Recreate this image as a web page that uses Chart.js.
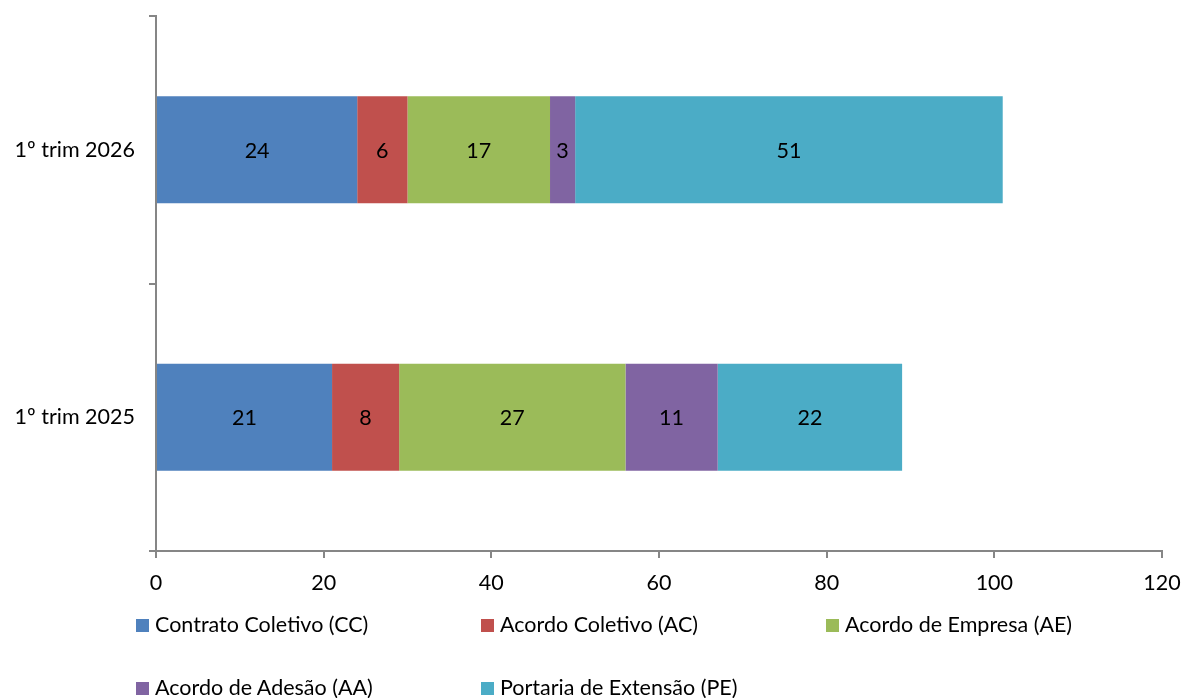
<!DOCTYPE html>
<html>
<head>
<meta charset="utf-8">
<script src="https://cdn.jsdelivr.net/npm/chart.js@4"></script>
<style>
  html, body { margin: 0; padding: 0; background: #fff; }
  #wrap { position: relative; width: 1184px; height: 698px; }
  #chart { position: absolute; left: 0; top: 0; }
  .leg { position: absolute; font-family: Lato, sans-serif; font-size: 21.5px; color: #000; white-space: nowrap; line-height: 22px; }
  .leg span { display: inline-block; width: 13px; height: 13px; margin-right: 6px; vertical-align: 0px; }
</style>
</head>
<body>
<div id="wrap">
  <canvas id="chart" width="1184" height="698"></canvas>
  <div id="legend"></div>
</div>
<script>
const categories = ['1º trim 2026', '1º trim 2025'];
const seriesNames = ['Contrato Coletivo (CC)', 'Acordo Coletivo  (AC)', 'Acordo de Empresa (AE)', 'Acordo de Adesão (AA)', 'Portaria de Extensão (PE)'];
const seriesColors = ['#4F81BD', '#C0504D', '#9BBB59', '#8064A2', '#4BACC6'];
const ccValues = [24, 21];
const acValues = [6, 8];
const aeValues = [17, 27];
const aaValues = [3, 11];
const peValues = [51, 22];
const xTicks = [0, 20, 40, 60, 80, 100, 120];

const allValues = [ccValues, acValues, aeValues, aaValues, peValues];
const axisColor = '#868686';
const font = { family: 'Lato, sans-serif', size: 21.5 };

// values written in the middle of each segment
const segmentLabels = {
  id: 'segmentLabels',
  afterDatasetsDraw(chart) {
    const ctx = chart.ctx;
    ctx.save();
    ctx.font = `${font.size}px ${font.family}`;
    ctx.fillStyle = '#000';
    ctx.textAlign = 'center';
    ctx.textBaseline = 'middle';
    chart.data.datasets.forEach((ds, i) => {
      chart.getDatasetMeta(i).data.forEach((bar, j) => {
        const p = bar.getCenterPoint();
        ctx.fillText(ds.data[j], p.x, p.y + 1);
      });
    });
    ctx.restore();
  }
};

function noLabelPadding(s) {
  s.paddingTop = 0;
  s.paddingBottom = 0;
  s.paddingLeft = 0;
  s.paddingRight = 0;
}

new Chart(document.getElementById('chart').getContext('2d'), {
  type: 'bar',
  data: {
    labels: categories,
    datasets: seriesNames.map((name, i) => ({
      label: name,
      data: allValues[i],
      backgroundColor: seriesColors[i],
      categoryPercentage: 1,
      barPercentage: 0.4,
    }))
  },
  options: {
    indexAxis: 'y',
    responsive: false,
    animation: false,
    layout: { padding: { top: 16, right: 22, bottom: 0, left: 0 } },
    plugins: {
      legend: { display: false },
      tooltip: { enabled: false },
    },
    scales: {
      x: {
        stacked: true,
        min: 0,
        max: 120,
        afterBuildTicks: (s) => { s.ticks = xTicks.map(v => ({ value: v })); },
        afterFit: (s) => { s.height = 147; noLabelPadding(s); },
        border: { color: axisColor, width: 2 },
        grid: { drawOnChartArea: false, color: axisColor, lineWidth: 2, tickLength: 7 },
        ticks: { color: '#000', font: font, padding: 12 },
      },
      y: {
        stacked: true,
        afterFit: (s) => { s.width = 156; noLabelPadding(s); },
        border: { color: axisColor, width: 2 },
        grid: { drawOnChartArea: false, color: axisColor, lineWidth: 2, tickLength: 7, offset: true },
        ticks: { color: '#000', font: font, padding: 14 },
      }
    }
  },
  plugins: [segmentLabels]
});

// legend laid out in fixed columns below the axis
const legendPos = [[136, 613], [481, 613], [826, 613], [136, 676], [481, 676]];
const legend = document.getElementById('legend');
seriesNames.forEach((name, i) => {
  const d = document.createElement('div');
  d.className = 'leg';
  d.style.left = legendPos[i][0] + 'px';
  d.style.top = legendPos[i][1] + 'px';
  const sw = document.createElement('span');
  sw.style.background = seriesColors[i];
  d.appendChild(sw);
  d.appendChild(document.createTextNode(name));
  legend.appendChild(d);
});
</script>
</body>
</html>
